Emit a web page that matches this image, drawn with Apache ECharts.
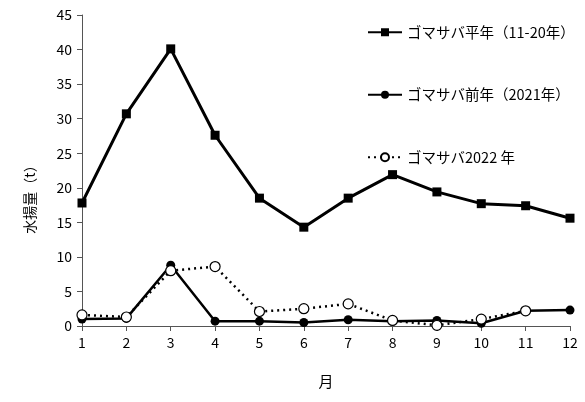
<!DOCTYPE html>
<html><head><meta charset="utf-8">
<script src="https://cdn.jsdelivr.net/npm/echarts@6/dist/echarts.min.js"></script>
<style>html,body{margin:0;padding:0;background:#fff}#c{width:585px;height:402px}</style>
</head><body><div id="c"></div>
<script>
const months = ['1','2','3','4','5','6','7','8','9','10','11','12'];
const avgName = 'ゴマサバ平年（11-20年）';
const prevName = 'ゴマサバ前年（2021年）';
const curName = 'ゴマサバ2022 年';
const yAxisName = '水揚量（t）';
const avgValues = [17.8, 30.7, 40.1, 27.6, 18.5, 14.3, 18.5, 21.9, 19.4, 17.7, 17.4, 15.6];
const prevValues = [1.0, 1.1, 8.8, 0.7, 0.7, 0.5, 0.9, 0.7, 0.8, 0.4, 2.2, 2.3];
const curValues = [1.6, 1.3, 8.0, 8.6, 2.1, 2.5, 3.2, 0.8, 0.1, 1.0, 2.2, null];
const yTicks = [0, 5, 10, 15, 20, 25, 30, 35, 40, 45];

const font = '"Noto Sans CJK JP", "Liberation Sans", sans-serif';
const chart = echarts.init(document.getElementById('c'));
chart.setOption({
  animation: false,
  backgroundColor: '#fff',
  grid: { left: 82, right: 15, top: 15, bottom: 76 },
  legend: {
    orient: 'vertical', left: 362, top: 20, itemGap: 48,
    itemWidth: 34, itemHeight: 10,
    textStyle: { fontFamily: font, fontSize: 14.5, color: '#000' },
    data: [avgName, prevName, curName]
  },
  graphic: [{
    type: 'text', rotation: Math.PI / 2,
    style: { text: yAxisName, font: '14px ' + font, fill: '#000', align: 'center', verticalAlign: 'middle' },
    x: 30, y: 196
  }],
  xAxis: {
    type: 'category', data: months, boundaryGap: false,
    name: '月', nameLocation: 'middle', nameGap: 48,
    nameTextStyle: { fontFamily: font, fontSize: 15, color: '#000' },
    axisLine: { lineStyle: { color: '#555', width: 1 } },
    axisTick: { alignWithLabel: true, length: 5, lineStyle: { color: '#555' } },
    axisLabel: { fontFamily: font, fontSize: 14, color: '#000', margin: 10 }
  },
  yAxis: {
    type: 'value', min: yTicks[0], max: yTicks[yTicks.length - 1], interval: 5,
    axisLine: { show: true, lineStyle: { color: '#555', width: 1 } },
    axisTick: { show: true, length: 5, lineStyle: { color: '#555' } },
    splitLine: { show: false },
    axisLabel: { fontFamily: font, fontSize: 14, color: '#000', margin: 10 }
  },
  series: [
    { name: avgName, type: 'line', data: avgValues, symbol: 'rect', symbolSize: 9,
      lineStyle: { color: '#000', width: 3 }, itemStyle: { color: '#000' } },
    { name: prevName, type: 'line', data: prevValues, symbol: 'circle', symbolSize: 9,
      lineStyle: { color: '#000', width: 2.5 }, itemStyle: { color: '#000' } },
    { name: curName, type: 'line', data: curValues, symbol: 'circle', symbolSize: 10,
      lineStyle: { color: '#000', width: 2.5, type: [2, 4] },
      itemStyle: { color: '#fff', borderColor: '#000', borderWidth: 1.2 } }
  ]
});
</script></body></html>
